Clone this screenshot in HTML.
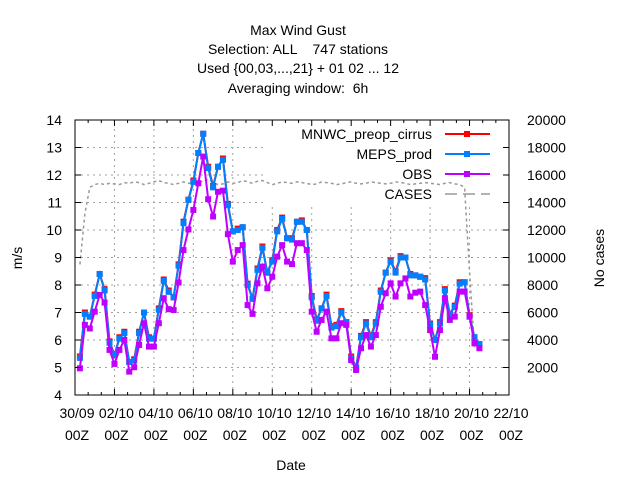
<!DOCTYPE html>
<html><head><meta charset="utf-8"><style>
body{margin:0;background:#fff;}
svg{display:block;font-family:"Liberation Sans",sans-serif;}
</style></head><body>
<svg id="chart" width="640" height="480" viewBox="0 0 640 480" xmlns="http://www.w3.org/2000/svg">
<g font-size="14" text-anchor="middle" fill="#000">
<text x="298" y="35">Max Wind Gust</text>
<text x="298" y="54" xml:space="preserve">Selection: ALL    747 stations</text>
<text x="298" y="73">Used {00,03,...,21} + 01 02 ... 12</text>
<text x="298" y="93" xml:space="preserve">Averaging window:  6h</text>
</g>
<g id="grid"></g>
<rect x="263" y="121" width="245" height="82" fill="#fff"/>
<g id="series"></g>
<g id="axes"></g>
<g id="legend" font-size="14"></g>
<text x="22" y="258" font-size="14" text-anchor="middle" transform="rotate(-90 22 258)">m/s</text>
<text x="604" y="258" font-size="14" text-anchor="middle" transform="rotate(-90 604 258)">No cases</text>
<text x="291" y="470" font-size="14" text-anchor="middle">Date</text>
</svg>
<script>
const xLabels=["30/09","02/10","04/10","06/10","08/10","10/10","12/10","14/10","16/10","18/10","20/10","22/10"];
const yTicks=[4,5,6,7,8,9,10,11,12,13,14];
const y2Ticks=[2000,4000,6000,8000,10000,12000,14000,16000,18000,20000];
const meps=[5.35,6.95,6.85,7.6,8.4,7.8,5.9,5.45,6.05,6.25,5.2,5.25,6.25,7.0,6.05,6.05,7.1,8.15,7.75,7.55,8.7,10.25,11.1,11.75,12.8,13.5,12.25,11.55,12.3,12.55,10.9,9.95,10.0,10.1,8.0,7.5,8.55,9.35,8.45,8.85,9.95,10.4,9.7,9.65,10.3,
10.3,10.0,7.55,6.7,7.15,7.6,6.45,6.5,7.0,6.65,5.35,5.0,6.1,6.6,6.1,6.6,7.75,8.45,8.85,8.45,9.0,9.0,8.35,8.35,8.3,8.2,6.55,6.0,6.6,7.8,6.95,7.2,8.05,8.1,6.85,6.1,5.85];
const mnwc=[5.4,7.0,6.85,7.65,8.4,7.85,5.95,5.45,6.1,6.3,5.2,5.3,6.3,7.0,6.1,6.05,7.15,8.2,7.8,7.55,8.75,10.3,11.1,11.8,12.8,13.5,12.3,11.6,12.3,12.6,10.95,9.95,10.05,10.1,8.05,7.5,8.6,9.4,8.45,8.9,10.0,10.45,9.7,9.7,10.3,
10.35,10.0,7.6,6.75,7.15,7.65,6.5,6.55,7.05,6.65,5.4,5.0,6.15,6.65,6.15,6.65,7.8,8.45,8.9,8.5,9.05,9.0,8.4,8.35,8.3,8.25,6.6,6.0,6.65,7.85,6.95,7.25,8.1,8.1,6.9,6.1,5.85];
const obs=[4.97,6.55,6.42,7.03,7.64,7.36,5.64,5.13,5.64,6.0,4.85,5.01,5.82,6.61,5.76,5.76,6.61,7.52,7.12,7.09,8.09,9.27,10.02,10.73,11.7,12.67,11.12,10.49,11.39,11.43,9.85,8.85,9.27,9.45,7.27,6.95,8.06,8.67,7.88,8.3,9.03,9.45,8.85,8.76,9.52,
9.52,9.27,7.03,6.3,6.73,7.03,6.06,6.06,6.61,6.55,5.27,4.91,5.7,6.18,5.76,6.18,7.21,7.7,8.06,7.58,8.06,8.24,7.58,7.72,7.76,7.27,6.36,5.39,6.36,7.52,6.73,6.85,7.76,7.76,6.85,5.88,5.7];
const cases=[9500,13200,15100,15300,15400,15300,15400,15350,15300,15450,15400,15500,15450,15300,15400,15500,15600,15450,15400,15300,15400,15500,15400,15450,15600,15500,15700,15450,15300,15350,15500,15400,15450,15600,15500,15400,15550,15600,15450,15300,15400,15500,15450,15400,15500,
15450,15400,15300,15350,15500,15450,15400,15300,15350,15450,15500,15400,15350,15400,15500,15450,15400,15350,15400,15500,15450,15400,15300,15350,15400,15450,15400,15350,15300,15400,15450,15350,15300,15100,9000,3400,3400];
const L=75,R=509,T=120,B=395;
const dayPx=(R-L)/22;
function xAt(i){return L+dayPx*0.25*(i+1);}
function yv(v){return B-(v-4)/10*(B-T);}
function y2(v){return B-v/20000*(B-T);}
const NS="http://www.w3.org/2000/svg";
function mk(tag,attrs,parent){const e=document.createElementNS(NS,tag);for(const k in attrs)e.setAttribute(k,attrs[k]);parent.appendChild(e);return e;}
const grid=document.getElementById('grid'),axes=document.getElementById('axes'),ser=document.getElementById('series'),leg=document.getElementById('legend');
yTicks.forEach((t,i)=>{const y=yv(t);
 if(i>0&&i<yTicks.length-1){const g=mk('line',{x1:L,x2:R,y1:y,y2:y,stroke:'#a0a0a0','stroke-dasharray':'2,4'},grid);
 
 }
 mk('line',{x1:L,x2:L+6,y1:y,y2:y,stroke:'#000'},axes);
 const tx=mk('text',{x:L-13,y:y+5,'font-size':14,'text-anchor':'end'},axes);tx.textContent=t;
 
 });
y2Ticks.forEach(t=>{const y=y2(t);
 mk('line',{x1:R-6,x2:R,y1:y,y2:y,stroke:'#000'},axes);
 const tx=mk('text',{x:R+18,y:y+5,'font-size':14},axes);tx.textContent=t;
 
 });
xLabels.forEach((lab,i)=>{const x=L+i*2*dayPx;
 if(i>0&&i<xLabels.length-1){const g=mk('line',{x1:x,x2:x,y1:B,y2:(x>262?203:T),stroke:'#a0a0a0','stroke-dasharray':'2,4'},grid);
 
 }
 mk('line',{x1:x,x2:x,y1:B,y2:B-6,stroke:'#000'},axes);
 mk('line',{x1:x,x2:x,y1:T,y2:T+6,stroke:'#000'},axes);
 if(i<xLabels.length-1)for(let k=1;k<3;k++){const mx=x+k*2*dayPx/3;mk('line',{x1:mx,x2:mx,y1:B,y2:B-3,stroke:'#000'},axes);mk('line',{x1:mx,x2:mx,y1:T,y2:T+3,stroke:'#000'},axes);}
 const tx=mk('text',{x:x+2,y:418,'font-size':14,'text-anchor':'middle'},axes);tx.textContent=lab;
 
 
 const tz=mk('text',{x:x+2,y:440,'font-size':14,'text-anchor':'middle'},axes);tz.textContent='00Z';
 
 });
const frame=mk('rect',{x:L,y:T,width:R-L,height:B-T,fill:'none',stroke:'#000'},axes);


function drawSeries(arr,col,name,fn,marker){
 const pts=arr.map((v,i)=>xAt(i).toFixed(1)+','+fn(v).toFixed(1)).join(' ');
 const pl=mk('polyline',{points:pts,fill:'none',stroke:col,'stroke-width':marker?2:1.5,'stroke-dasharray':marker?'none':'3,3'},ser);
 
 
 if(marker)arr.forEach((v,i)=>{const r=mk('rect',{x:xAt(i)-3,y:fn(v)-3,width:6,height:6,fill:col},ser);
 
 });}
drawSeries(cases,'#999','cases',y2,false);
drawSeries(mnwc,'#ff0000','mnwc',yv,true);
drawSeries(meps,'#0080ff','meps',yv,true);
drawSeries(obs,'#c000ff','obs',yv,true);
const legItems=[["MNWC_preop_cirrus","#ff0000",true],["MEPS_prod","#0080ff",true],["OBS","#c000ff",true],["CASES","#999",false]];
legItems.forEach((it,i)=>{const y=134+i*20;
 const tx=mk('text',{x:432,y:y+5,'text-anchor':'end','font-size':14},leg);tx.textContent=it[0];
 
 
 const ln=mk('line',{x1:445,x2:490,y1:y,y2:y,stroke:it[1],'stroke-width':it[2]?2:1.5,'stroke-dasharray':it[2]?'none':'12,6'},leg);
 
 
 if(it[2])mk('rect',{x:464,y:y-3,width:6,height:6,fill:it[1]},leg);});
</script>
</body></html>
